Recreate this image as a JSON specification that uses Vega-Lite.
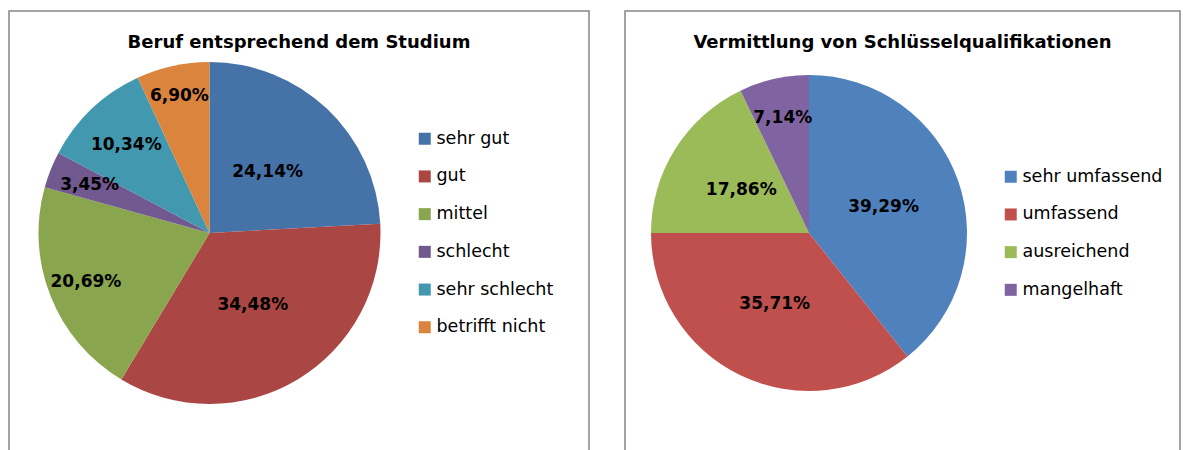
{
  "$schema": "https://vega.github.io/schema/vega-lite/v6.json",
  "padding": {"left": 8, "top": 10, "right": 0, "bottom": 0},
  "autosize": {"type": "pad"},
  "background": "white",
  "spacing": 34,
  "config": {
    "view": {"stroke": "#868686", "strokeWidth": 1.5},
    "font": "DejaVu Sans",
    "locale": {"number": {"decimal": ",", "thousands": ".", "grouping": [3], "currency": ["", " €"]}}
  },
  "resolve": {"scale": {"color": "independent", "theta": "independent", "radius": "independent"}},
  "hconcat": [
    {
      "width": 580,
      "height": 450,
      "view": {"stroke": "#868686", "strokeWidth": 1.5},
      "title": {"text": "Beruf entsprechend dem Studium", "anchor": "middle", "offset": -55, "baseline": "alphabetic", "fontSize": 18, "fontWeight": "bold", "font": "DejaVu Sans", "color": "#000000"},
      "data": {"values": [
        {"i": 1, "cat": "sehr gut", "value": 0.2414},
        {"i": 2, "cat": "gut", "value": 0.3448},
        {"i": 3, "cat": "mittel", "value": 0.2069},
        {"i": 4, "cat": "schlecht", "value": 0.0345},
        {"i": 5, "cat": "sehr schlecht", "value": 0.1034},
        {"i": 6, "cat": "betrifft nicht", "value": 0.0690}
      ]},
      "encoding": {
        "theta": {"field": "value", "type": "quantitative", "stack": true},
        "order": {"field": "i", "type": "quantitative"}
      },
      "layer": [
        {
          "mark": {"type": "arc", "outerRadius": 171, "x": 200.5, "y": 222},
          "encoding": {
            "color": {
              "field": "cat", "type": "nominal",
              "scale": {"domain": ["sehr gut", "gut", "mittel", "schlecht", "sehr schlecht", "betrifft nicht"],
                        "range": ["#4572A7", "#AA4643", "#89A54E", "#71588F", "#4198AF", "#DB843D"]},
              "legend": {"orient": "none", "legendX": 407, "legendY": 119, "title": null, "padding": 0,
                         "symbolType": "square", "symbolSize": 144, "symbolStrokeWidth": 0,
                         "labelFontSize": 17.5, "labelFont": "DejaVu Sans", "labelColor": "#000000",
                         "rowPadding": 18.7, "labelOffset": 3, "labelLimit": 300}
            }
          }
        },
        {
          "mark": {"type": "text", "x": 200.5, "y": 222, "font": "DejaVu Sans", "fontWeight": "bold", "fontSize": 17, "color": "#000000"},
          "encoding": {
            "text": {"field": "value", "type": "quantitative", "format": ".2%"},
            "radius": {"field": "value", "type": "quantitative",
                       "scale": {"type": "linear", "zero": false,
                                 "domain": [0.0345, 0.069, 0.1034, 0.2069, 0.2414, 0.3448],
                                 "range": [129, 140, 121, 133, 84.5, 84]}}
          }
        }
      ]
    },
    {
      "width": 555,
      "height": 450,
      "view": {"stroke": "#868686", "strokeWidth": 1.5},
      "title": {"text": "Vermittlung von Schlüsselqualifikationen", "anchor": "middle", "offset": -55, "baseline": "alphabetic", "fontSize": 18, "fontWeight": "bold", "font": "DejaVu Sans", "color": "#000000"},
      "data": {"values": [
        {"i": 1, "cat": "sehr umfassend", "value": 0.3929},
        {"i": 2, "cat": "umfassend", "value": 0.3571},
        {"i": 3, "cat": "ausreichend", "value": 0.1786},
        {"i": 4, "cat": "mangelhaft", "value": 0.0714}
      ]},
      "encoding": {
        "theta": {"field": "value", "type": "quantitative", "stack": true},
        "order": {"field": "i", "type": "quantitative"}
      },
      "layer": [
        {
          "mark": {"type": "arc", "outerRadius": 158, "x": 184, "y": 222},
          "encoding": {
            "color": {
              "field": "cat", "type": "nominal",
              "scale": {"domain": ["sehr umfassend", "umfassend", "ausreichend", "mangelhaft"],
                        "range": ["#4F81BD", "#C0504D", "#9BBB59", "#8064A2"]},
              "legend": {"orient": "none", "legendX": 377, "legendY": 157, "title": null, "padding": 0,
                         "symbolType": "square", "symbolSize": 144, "symbolStrokeWidth": 0,
                         "labelFontSize": 17.5, "labelFont": "DejaVu Sans", "labelColor": "#000000",
                         "rowPadding": 18.7, "labelOffset": 3, "labelLimit": 300}
            }
          }
        },
        {
          "mark": {"type": "text", "x": 184, "y": 222, "font": "DejaVu Sans", "fontWeight": "bold", "fontSize": 17, "color": "#000000"},
          "encoding": {
            "text": {"field": "value", "type": "quantitative", "format": ".2%"},
            "radius": {"field": "value", "type": "quantitative",
                       "scale": {"type": "linear", "zero": false,
                                 "domain": [0.0714, 0.1786, 0.3571, 0.3929],
                                 "range": [118, 80, 79, 79]}}
          }
        }
      ]
    }
  ]
}
